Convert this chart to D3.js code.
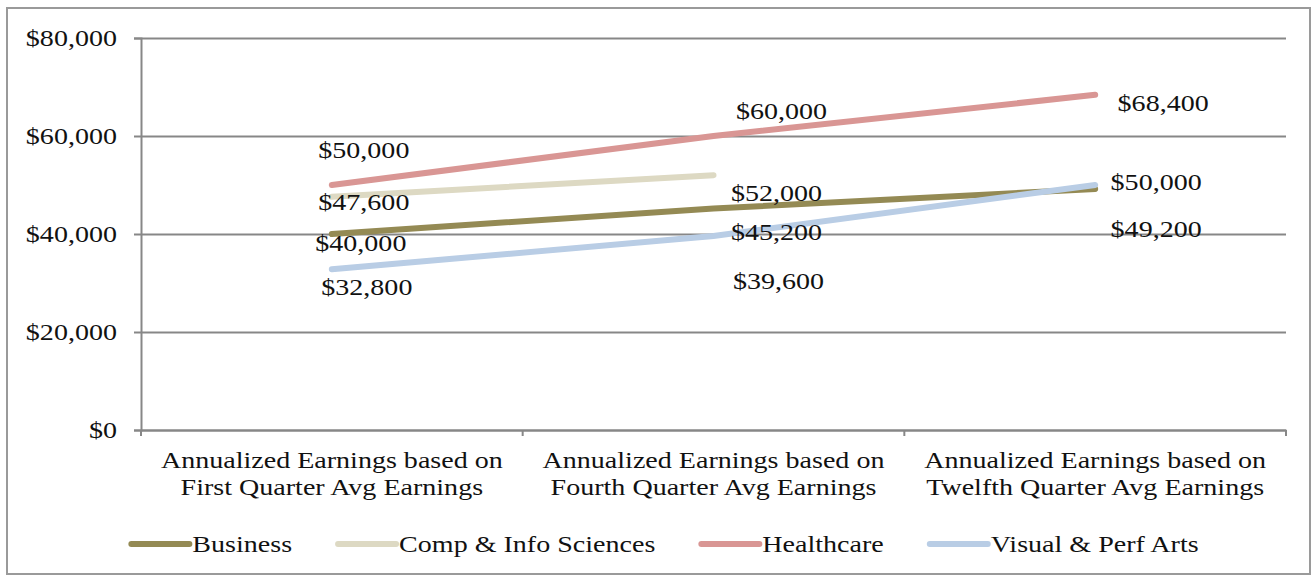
<!DOCTYPE html>
<html>
<head>
<meta charset="utf-8">
<script src="https://cdn.jsdelivr.net/npm/d3@7/dist/d3.min.js"></script>
<style>
  html, body { margin: 0; padding: 0; background: #fff; }
  svg { display: block; }
  text { font-family: "Liberation Serif", "Times New Roman", serif; fill: #111; }
</style>
</head>
<body>
<svg id="chart" width="1315" height="581"></svg>
<script>
// ---- data ----
const categories = [
  "Annualized Earnings based on|First Quarter Avg Earnings",
  "Annualized Earnings based on|Fourth Quarter Avg Earnings",
  "Annualized Earnings based on|Twelfth Quarter Avg Earnings"
];
const seriesNames = ["Business", "Comp & Info Sciences", "Healthcare", "Visual & Perf Arts"];
const business = [40000, 45200, 49200];
const compInfo = [47600, 52000];
const healthcare = [50000, 60000, 68400];
const visualArts = [32800, 39600, 50000];
const yTicks = [0, 20000, 40000, 60000, 80000];

// ---- styles / layout (not data) ----
const colors = ["#948A54", "#DDD9C3", "#D99694", "#B9CDE5"];
// label offsets [dx, dy] from each point (Excel-style manual label placement)
const labelOffsets = [
  [[29, 17], [63, 31], [61, 48]],
  [[32, 13], [63, 26]],
  [[32, -27], [68, -17], [68, 16]],
  [[35, 26], [65, 53], [61, 5]]
];
const FS = 23, SX = 1.22;

const svg = d3.select("#chart");
const margin = { left: 141, right: 1315 - 1286, top: 38, bottom: 581 - 430 };
const W = 1315 - margin.left - margin.right;
const H = 581 - margin.top - margin.bottom;

// outer border
svg.append("rect").attr("x", 7).attr("y", 8).attr("width", 1303).attr("height", 566)
  .attr("fill", "#fff").attr("stroke", "#9a9a9a").attr("stroke-width", 2);

const g = svg.append("g").attr("transform", `translate(${margin.left},${margin.top})`);

const x = d3.scaleBand().domain(categories).range([0, W]);
const y = d3.scaleLinear().domain([0, 80000]).range([H, 0]);
const fmt = v => "$" + d3.format(",")(v);

// gridlines
const grid = g.append("g").call(d3.axisLeft(y).tickValues(yTicks).tickSize(-W).tickFormat(""));
grid.select(".domain").remove();
grid.selectAll(".tick line").attr("stroke", "#878787").attr("stroke-width", 2);

// y axis
const yAx = g.append("g").call(d3.axisLeft(y).tickValues(yTicks).tickSize(7).tickPadding(0).tickFormat(fmt));
yAx.select(".domain").attr("stroke", "#878787").attr("stroke-width", 2);
yAx.selectAll(".tick line").attr("stroke", "#878787").attr("stroke-width", 2);
yAx.selectAll(".tick text")
  .attr("x", 0).attr("dy", "0.33em")
  .attr("text-anchor", "end")
  .style("font-size", FS + "px")
  .attr("transform", `translate(-24,0) scale(${SX},1)`);

// x axis
const xAx = g.append("g").attr("transform", `translate(0,${H})`)
  .call(d3.axisBottom(x).tickSize(0).tickPadding(0));
xAx.select(".domain").attr("stroke", "#878787").attr("stroke-width", 2);
xAx.selectAll(".tick text").each(function(d) {
  const t = d3.select(this);
  t.text(null).attr("y", 0).attr("dy", null)
    .style("font-size", FS + "px")
    .attr("transform", `translate(0,38) scale(${SX},1)`);
  d.split("|").forEach((line, i) => {
    t.append("tspan").attr("x", 0).attr("y", i * 27).text(line);
  });
});
// boundary tick marks
const bounds = categories.map(c => x(c)).concat([W]);
g.append("g").selectAll("line").data(bounds).join("line")
  .attr("x1", d => d).attr("x2", d => d).attr("y1", H).attr("y2", H + 6)
  .attr("stroke", "#878787").attr("stroke-width", 2);

// lines
const allSeries = [business, compInfo, healthcare, visualArts];
const lineGen = d3.line()
  .x((d, i) => x(categories[i]) + x.bandwidth() / 2)
  .y(d => y(d));
allSeries.forEach((s, si) => {
  g.append("path").datum(s)
    .attr("d", lineGen)
    .attr("fill", "none")
    .attr("stroke", colors[si])
    .attr("stroke-width", 6)
    .attr("stroke-linecap", "round");
});

// data labels
allSeries.forEach((s, si) => {
  g.append("g").selectAll("text").data(s).join("text")
    .attr("transform", (d, i) => {
      const px = x(categories[i]) + x.bandwidth() / 2 + labelOffsets[si][i][0];
      const py = y(d) + labelOffsets[si][i][1];
      return `translate(${px},${py}) scale(${SX},1)`;
    })
    .attr("text-anchor", "middle")
    .style("font-size", FS + "px")
    .text(d => fmt(d));
});

// legend
const leg = svg.append("g");
let cx = 0;
const GAP = 44;
seriesNames.forEach((name, i) => {
  const it = leg.append("g").attr("transform", `translate(${cx},0)`);
  it.append("line").attr("x1", 2).attr("x2", 60).attr("y1", 0).attr("y2", 0)
    .attr("stroke", colors[i]).attr("stroke-width", 6).attr("stroke-linecap", "round");
  const t = it.append("text").attr("transform", `translate(63,8) scale(${SX},1)`)
    .style("font-size", FS + "px").text(name);
  const w = t.node().getComputedTextLength() * SX;
  cx += 63 + w + GAP;
});
const total = cx - GAP;
leg.attr("transform", `translate(${664 - total / 2},544)`);
</script>
</body>
</html>
